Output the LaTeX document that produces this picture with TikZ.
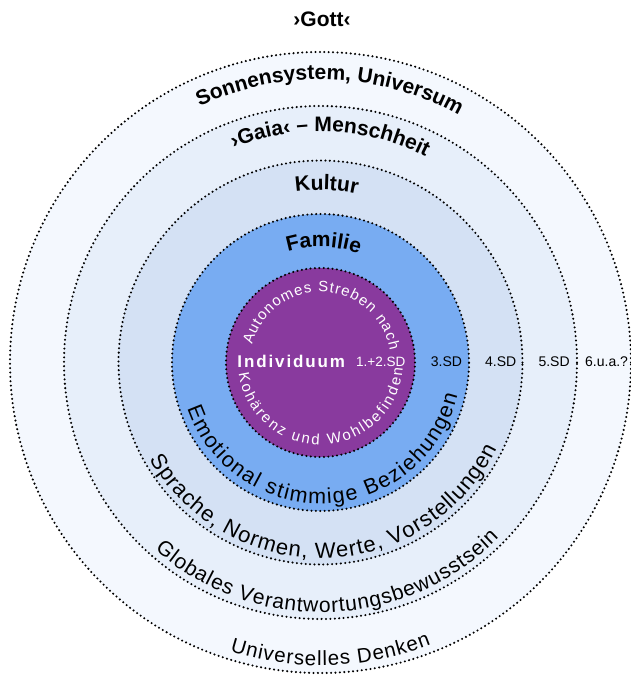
\documentclass[tikz,border=0pt]{standalone}
\usepackage{fontspec}
\setmainfont{Liberation Sans}
\usetikzlibrary{decorations.text}
\definecolor{ringA}{HTML}{F4F8FE}
\definecolor{ringB}{HTML}{E7EFFA}
\definecolor{ringC}{HTML}{D4E1F4}
\definecolor{ringD}{HTML}{78ACF2}
\definecolor{core}{HTML}{893A9E}
\newcommand\fsz[1]{\fontsize{#1pt}{#1pt}\selectfont}

\begin{document}
\begin{tikzpicture}[x=1pt,y=1pt,
  dotline/.style={draw=black, line width=2.3pt, line cap=round, dash pattern=on 0pt off 4.4pt},
  sdlabel/.style={anchor=base west, inner sep=0pt, font=\fsz{14}},
  toptext/.style={decorate, decoration={text along path, text align=center, text={|\bfseries\fsz{21}|#1}}},
  bottext/.style 2 args={decorate, decoration={text along path, text align={fit to path}, text={|\fsz{#1}|#2}}},
  coretext/.style={decorate, decoration={text along path, text color=white, text align={fit to path}, text={|\fsz{15}|#1}}}]
\useasboundingbox (-320.5,-314.5) rectangle (309.5,362.5);

% nested spheres, outermost first
\foreach \r/\c in {310.5/ringA,256.5/ringB,202/ringC,148.5/ringD,94.5/core}{
  \fill[\c] (0,0) circle[radius=\r];
  \draw[dotline] (0,0) circle[radius=\r];
}

% top title
\node[font=\bfseries\fsz{21}, anchor=base, inner sep=0pt] (gott) at (1.5,335.8) {›Gott‹};

% curved titles on the upper arcs
\path[toptext={Sonnensystem, Universum}] (158:283) arc[start angle=158, end angle=18, radius=283];
\path[toptext={›Gaia‹ – Menschheit}] (157.5:231) arc[start angle=157.5, end angle=17.5, radius=231];
\path[toptext={Kultur}] (158:172.5) arc[start angle=158, end angle=18, radius=172.5];
\path[toptext={Familie}] (158.5:115.5) arc[start angle=158.5, end angle=18.5, radius=115.5];

% curved descriptions on the lower arcs
\path[bottext={20.5}{Universelles Denken}] (252.6:303) arc[start angle=252.6, end angle=291.4, radius=303];
\path[bottext={21}{Globales Verantwortungsbewusstsein}] (228.5:250) arc[start angle=228.5, end angle=315.5, radius=250];
\path[bottext={22}{Sprache, Normen, Werte, Vorstellungen}] (209.5:196) arc[start angle=209.5, end angle=334, radius=196];
\path[bottext={21.5}{Emotional stimmige Beziehungen}] (199:141) arc[start angle=199, end angle=346.5, radius=141];

% core
\path[coretext={Autonomes Streben nach}] (165.5:70.5) arc[start angle=165.5, end angle=10, radius=70.5];
\path[coretext={Kohärenz und Wohlbefinden}] (187.5:82.5) arc[start angle=187.5, end angle=356, radius=82.5];
\node[anchor=base west, inner sep=0pt, text=white, font=\bfseries\fsz{17}] (indiv) at (-83.2,-4.8) {\addfontfeature{LetterSpace=11}Individuum};
\node[anchor=base west, inner sep=0pt, text=white, font=\fsz{13.5}] (sd12) at (35.5,-4.5) {1.+2.SD};

% stage labels
\node[sdlabel] (sd3) at (110.2,-4.5) {3.SD};
\node[sdlabel] (sd4) at (164.5,-4.5) {4.SD};
\node[sdlabel] (sd5) at (217.8,-4.5) {5.SD};
\node[sdlabel] (sd6) at (264.5,-4.5) {6.u.a.?};
\end{tikzpicture}
\end{document}
